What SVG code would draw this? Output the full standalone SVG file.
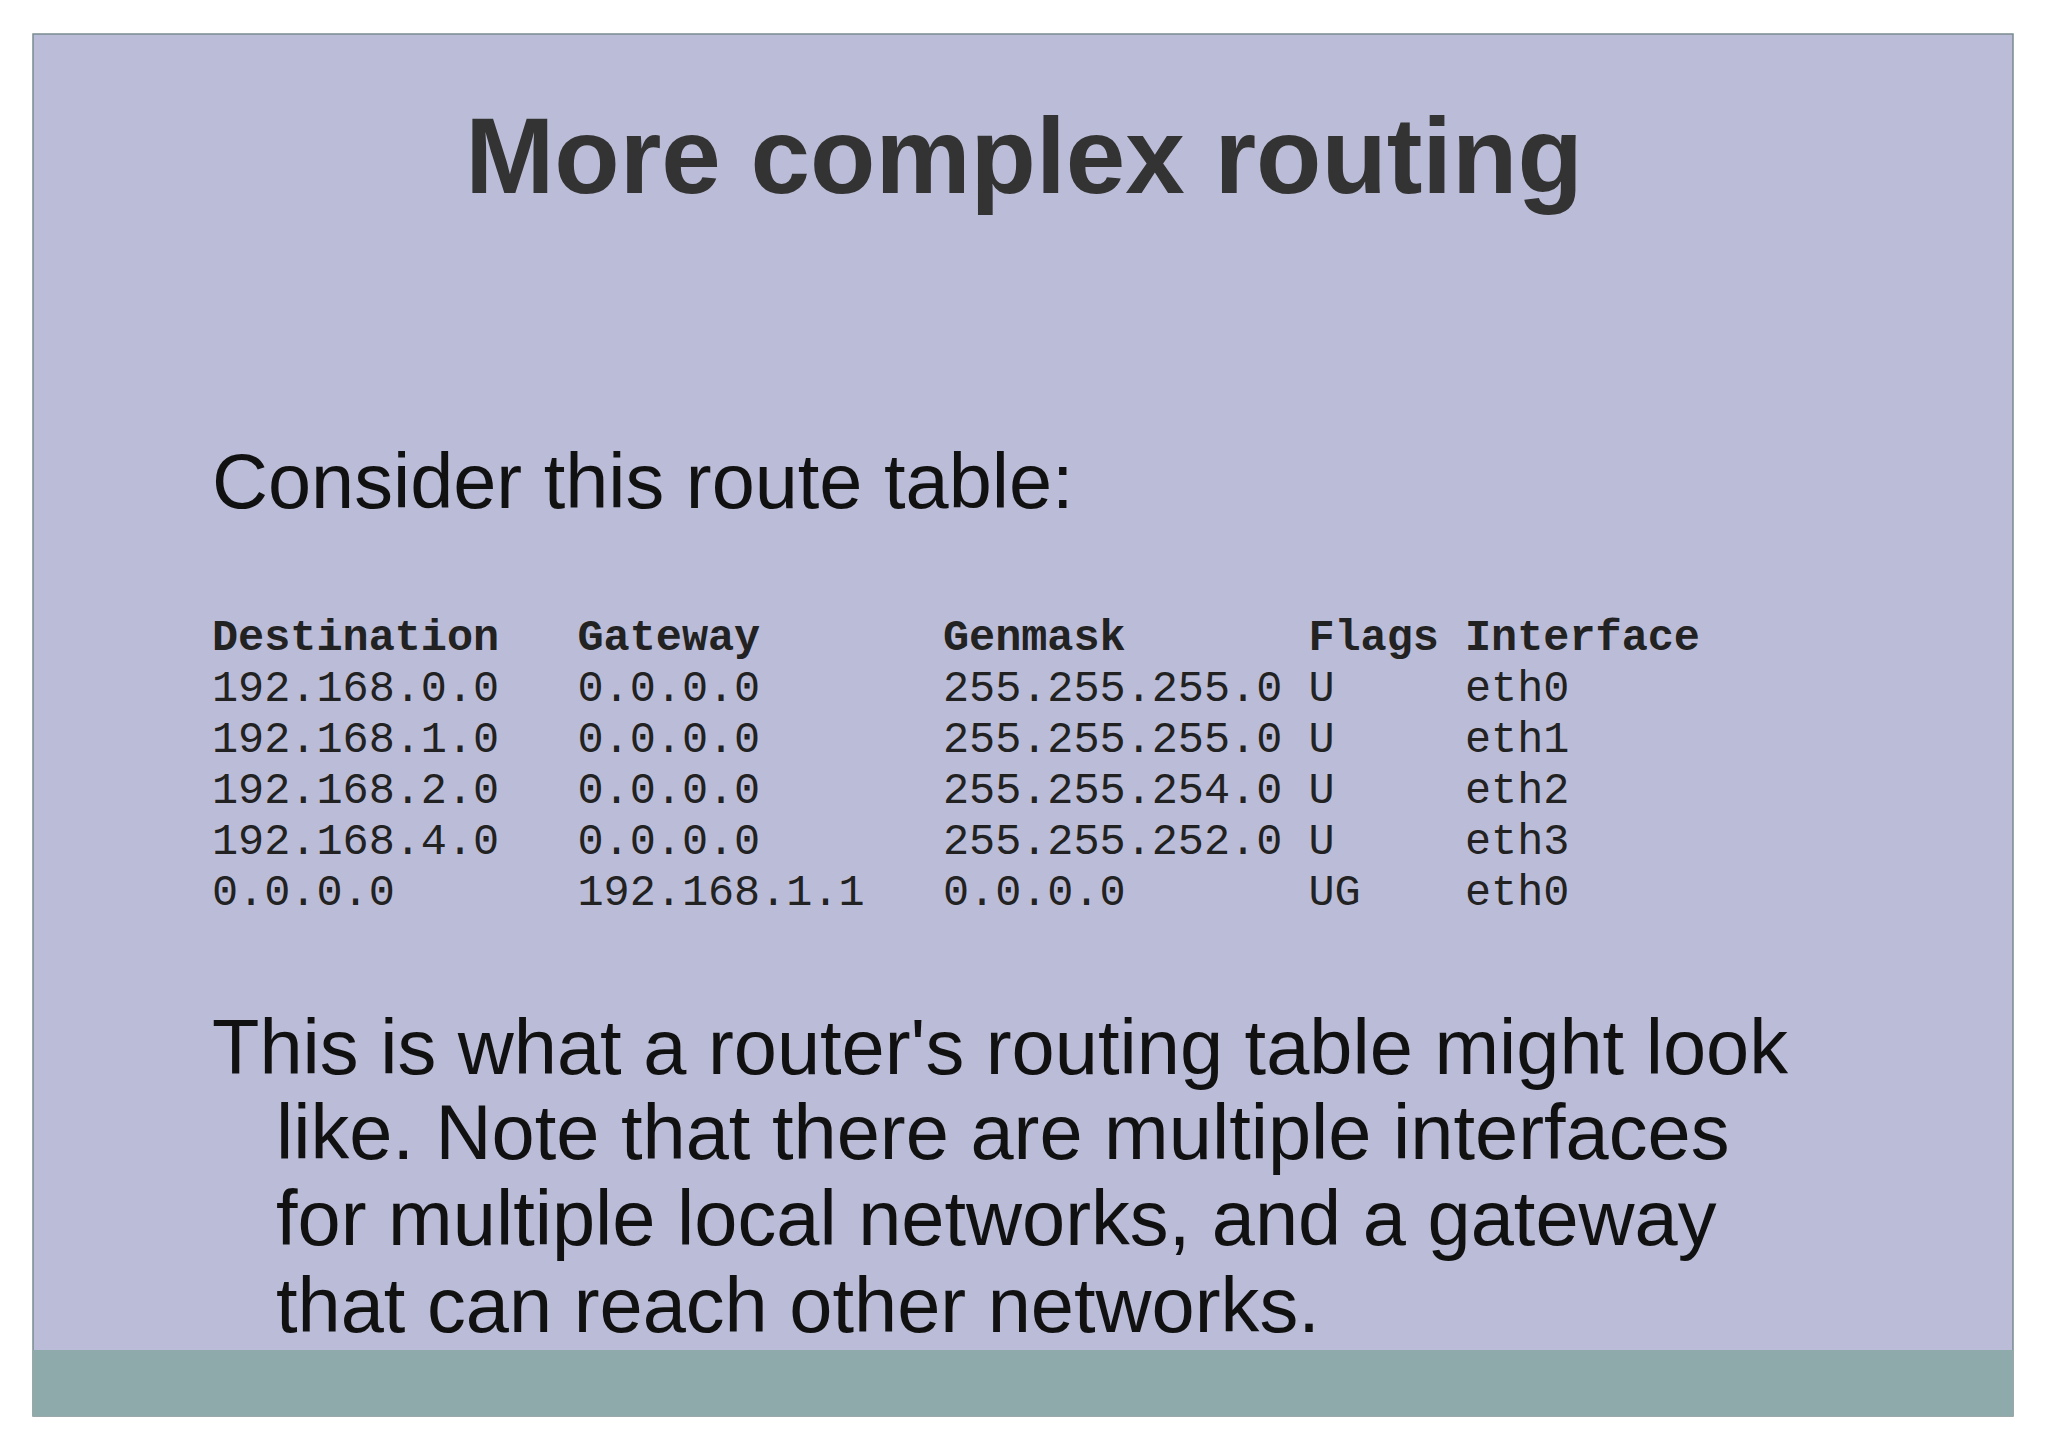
<svg xmlns="http://www.w3.org/2000/svg" width="2048" height="1449" viewBox="0 0 2048 1449">
<style>
.s{font-family:"Liberation Sans",Arial,sans-serif;fill:#111}
.m{font-family:"Liberation Mono","Courier New",monospace;font-size:43.5px;fill:#222;white-space:pre}
</style>
<rect width="2048" height="1449" fill="#fff"/>
<rect x="33" y="34" width="1980" height="1382" fill="#bbbdd8" stroke="#7a8a90" stroke-width="1.5"/>
<rect x="33" y="1350" width="1980" height="66" fill="#8eaaaa"/>
<g id="title"><text x="1024" y="193" text-anchor="middle" class="s" style="font-size:107px;font-weight:bold;fill:#333">More complex routing</text></g>
<g id="intro"><text x="212" y="508" class="s" font-size="77.5">Consider this route table:</text></g>
<g id="table">
<text x="212" y="650" class="m" font-weight="bold" xml:space="preserve">Destination   Gateway       Genmask       Flags Interface</text>
<text x="212" y="701" class="m" xml:space="preserve">192.168.0.0   0.0.0.0       255.255.255.0 U     eth0</text>
<text x="212" y="752" class="m" xml:space="preserve">192.168.1.0   0.0.0.0       255.255.255.0 U     eth1</text>
<text x="212" y="803" class="m" xml:space="preserve">192.168.2.0   0.0.0.0       255.255.254.0 U     eth2</text>
<text x="212" y="854" class="m" xml:space="preserve">192.168.4.0   0.0.0.0       255.255.252.0 U     eth3</text>
<text x="212" y="905" class="m" xml:space="preserve">0.0.0.0       192.168.1.1   0.0.0.0       UG    eth0</text>
</g>
<g id="para" font-size="77.6">
<text x="212" y="1074" class="s">This is what a router's routing table might look</text>
<text x="276" y="1159" class="s">like. Note that there are multiple interfaces</text>
<text x="276" y="1245" class="s">for multiple local networks, and a gateway</text>
<text x="276" y="1332" class="s">that can reach other networks.</text>
</g>
</svg>
